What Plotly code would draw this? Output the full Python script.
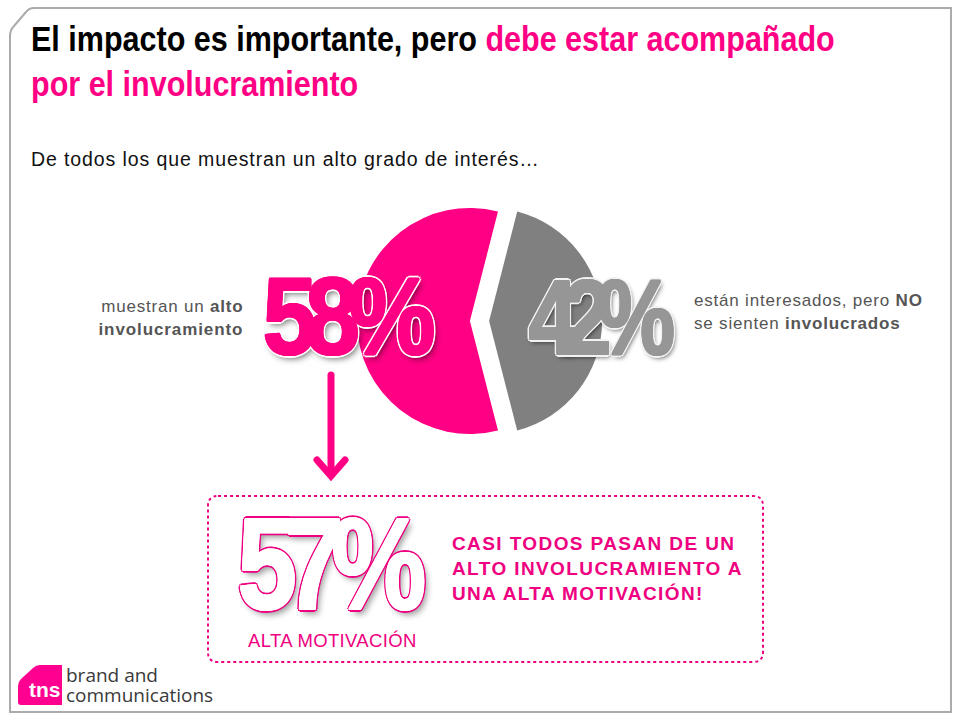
import json
import plotly.graph_objects as go

labels = ["No involucrados", "Alto involucramiento"]
values = [42, 58]
colors = ["#808080", "#FF0084"]

PINK = "#FF0084"
TXT = "#EE0080"
W, H = 960, 720


def X(v):
    return v / W


def Y(v):
    return 1 - v / H


def ring(c, d):
    k = round(d * 0.72, 2)
    return [f"{dx}px {dy}px 0 {c}" for dx, dy in
            [(d, 0), (-d, 0), (0, d), (0, -d), (k, k), (-k, k), (k, -k), (-k, -k)]]


def big_shadow(fill, edge, blur, thick=1.2, d=2.8):
    return ", ".join(ring(fill, thick) + ring(edge, d) + [blur])


cx, cy, half = 479.5, 321, 122.6
fig = go.Figure(go.Pie(
    labels=labels, values=values, sort=False, direction="clockwise", rotation=14.4,
    pull=[0.085, 0.085], marker=dict(colors=colors, line=dict(width=0)),
    textinfo="none", hoverinfo="label+percent", showlegend=False,
    domain=dict(x=[X(cx - half), X(cx + half)], y=[Y(cy + half), Y(cy - half)]),
))


def note(x, y, text, size, color="#000", family="Liberation Sans", anchor="left", valign="top", shadow=None, align="left"):
    font = dict(size=size, color=color, family=family)
    if shadow:
        font["shadow"] = shadow
    fig.add_annotation(x=X(x), y=Y(y), xref="paper", yref="paper", text=text, showarrow=False,
                       xanchor=anchor, yanchor=valign, align=align, font=font, borderpad=0, borderwidth=0)


note(31, 19, f'<b>El impacto es importante, pero </b><span style="color:{PINK}"><b>debe estar acompañado</b></span>', 35)
note(31, 64, f'<span style="color:{PINK}"><b>por el involucramiento</b></span>', 35)
note(31, 148, "De todos los que muestran un alto grado de interés…", 19.5, color="#111")
note(243, 297, 'muestran un <b>alto</b>', 17, color="#555", anchor="right", align="right")
note(243, 320, '<b>involucramiento</b>', 17, color="#555", anchor="right", align="right")
note(694, 291, 'están interesados, pero <b>NO</b>', 17, color="#555")
note(694, 314, 'se sienten <b>involucrados</b>', 17, color="#555")

note(362, 315, "<b>58%</b>", 110, color=PINK, anchor="center", valign="middle",
     shadow=big_shadow(PINK, "#fff", "3px 4px 6px rgba(0,0,0,.55)"))
note(619, 317, "<b>42%</b>", 106, color="#969696", anchor="center", valign="middle",
     shadow=big_shadow("#969696", "#f2f2f2", "2px 3px 5px rgba(0,0,0,.7)"))
note(347, 564, "<b>57%</b>", 130, color="#fff", anchor="center", valign="middle",
     shadow=big_shadow("#fff", TXT, "4px 5px 6px rgba(0,0,0,.4)"))
note(248, 630, "ALTA MOTIVACIÓN", 18.5, color=TXT)
for i, t in enumerate(["CASI TODOS PASAN DE UN", "ALTO INVOLUCRAMIENTO A", "UNA ALTA MOTIVACIÓN!"]):
    note(452, 533 + i * 25, f"<b>{t}</b>", 19, color=TXT)

note(29, 678, "<b>tns</b>", 21, color="#fff")
note(66, 662, "brand and", 19, color="#3a3a3a", family="Open Sans")
note(66, 682, "communications", 19, color="#3a3a3a", family="Open Sans")


def rounded(x0, y0, x1, y1, r):
    return (f"M {X(x0 + r)} {Y(y0)} L {X(x1 - r)} {Y(y0)} Q {X(x1)} {Y(y0)} {X(x1)} {Y(y0 + r)} "
            f"L {X(x1)} {Y(y1 - r)} Q {X(x1)} {Y(y1)} {X(x1 - r)} {Y(y1)} "
            f"L {X(x0 + r)} {Y(y1)} Q {X(x0)} {Y(y1)} {X(x0)} {Y(y1 - r)} "
            f"L {X(x0)} {Y(y0 + r)} Q {X(x0)} {Y(y0)} {X(x0 + r)} {Y(y0)} Z")


frame = (f"M {X(34)} {Y(8)} L {X(951)} {Y(8)} L {X(951)} {Y(712)} L {X(10)} {Y(712)} L {X(10)} {Y(36)} "
         f"Q {X(10)} {Y(30)} {X(14)} {Y(26)} L {X(26)} {Y(12)} Q {X(29)} {Y(8)} {X(34)} {Y(8)} Z")
logo = (f"M {X(40)} {Y(665)} L {X(62)} {Y(665)} L {X(62)} {Y(705)} L {X(21)} {Y(705)} Q {X(18)} {Y(705)} {X(18)} {Y(702)} "
        f"L {X(18)} {Y(686)} Q {X(18)} {Y(682)} {X(21)} {Y(679)} L {X(33)} {Y(668)} Q {X(36)} {Y(665)} {X(40)} {Y(665)} Z")
shapes = [
    dict(type="path", path=frame, line=dict(color="#ABABAB", width=2), layer="below"),
    dict(type="path", path=rounded(208, 496, 763, 662, 10), line=dict(color=TXT, width=2, dash="dot"), layer="below"),
    dict(type="line", x0=X(331), x1=X(331), y0=Y(375), y1=Y(474), line=dict(color=PINK, width=7)),
    dict(type="path", path=f"M {X(317)} {Y(460)} L {X(331)} {Y(476)} L {X(345)} {Y(460)}", line=dict(color=PINK, width=7)),
    dict(type="path", path=logo, fillcolor="#FF0090", line=dict(width=0), layer="below"),
]

fig.update_layout(width=W, height=H, margin=dict(l=0, r=0, t=0, b=0), paper_bgcolor="#fff",
                  plot_bgcolor="#fff", shapes=shapes, showlegend=False)

# per-text fine tuning: [letter spacing px, x scale]
tune = {
    "58%": [-13, 0.89],
    "42%": [-17, 0.82],
    "57%": [-15, 0.82],
    "El impacto": [0, None],
    "por el": [0, None],
    "De todos": [0.9, 1],
    "muestran": [0.8, 1],
    "involucramiento": [0.9, 1],
    "están": [0.8, 1],
    "se sienten": [0.8, 1],
    "CASI": [1.4, 1],
    "ALTO": [1.4, 1],
    "UNA": [1.4, 1],
    "ALTA MOTIVACIÓN": [0.35, 1],
}
post = """
document.body.style.margin = '0';
var tune = %s;
var texts = Array.from(document.querySelectorAll('.annotation-text'));
var sx = 1;
texts.forEach(function(t){
  if (t.textContent.indexOf('El impacto') === 0) sx = 804 / t.getBBox().width;
});
texts.forEach(function(t){
  var s = t.textContent;
  Object.keys(tune).forEach(function(k){
    if (s.indexOf(k) !== 0) return;
    var c = tune[k];
    if (c[0]) t.style.letterSpacing = c[0] + 'px';
    var b = t.getBBox();
    var f = c[1] === null ? sx : c[1];
    if (f !== 1) {
      var o = c[1] === null ? b.x : b.x + b.width / 2;
      t.setAttribute('transform', 'translate(' + o + ',0) scale(' + f + ',1) translate(' + (-o) + ',0)');
    }
  });
});
document.querySelectorAll('.shapelayer path').forEach(function(p){
  if (p.style.strokeWidth === '7px') p.style.strokeLinecap = 'round';
});
""" % json.dumps(tune)
fig.write_html("out.html", post_script=post, config=dict(responsive=False, displayModeBar=False))
